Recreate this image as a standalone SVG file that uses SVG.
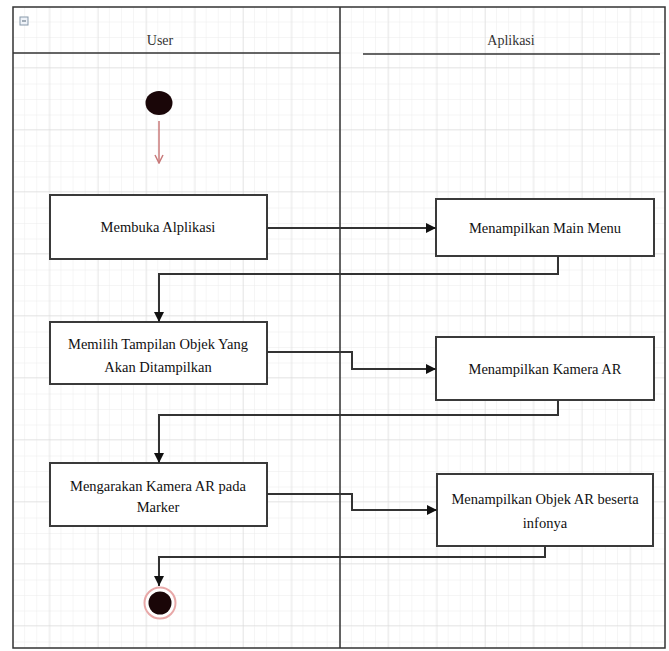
<svg xmlns="http://www.w3.org/2000/svg" width="669" height="651" viewBox="0 0 669 651">
  <defs>
    <pattern id="minor" x="13" y="7" width="12.1" height="15.5" patternUnits="userSpaceOnUse">
      <path d="M12.1 0 V15.5 M0 15.5 H12.1" fill="none" stroke="#ececec" stroke-width="1"/>
    </pattern>
    <pattern id="major" x="2" y="6" width="48.4" height="62" patternUnits="userSpaceOnUse">
      <path d="M48.4 0 V62 M0 62 H48.4" fill="none" stroke="#d9d9d9" stroke-width="1"/>
    </pattern>
    <marker id="arr" viewBox="0 0 10 10" refX="10" refY="5" markerWidth="10" markerHeight="10" markerUnits="userSpaceOnUse" orient="auto">
      <path d="M0 0 L10 5 L0 10 Z" fill="#111"/>
    </marker>
    <marker id="open" viewBox="0 0 10 10" refX="9" refY="5" markerWidth="10" markerHeight="10" markerUnits="userSpaceOnUse" orient="auto">
      <path d="M1 1 L9 5 L1 9" fill="none" stroke="#c87a7a" stroke-width="1.5"/>
    </marker>
    <style>
      .box { fill: #fff; stroke: #3a3a3a; stroke-width: 2; }
      .lbl { font-family: 'Liberation Serif', 'DejaVu Serif', serif; font-size: 14.5px; fill: #111; text-anchor: middle; }
      .hdr { font-family: 'Liberation Serif', 'DejaVu Serif', serif; font-size: 14px; fill: #333; text-anchor: middle; }
      .con { fill: none; stroke: #333; stroke-width: 2; }
    </style>
  </defs>
  <rect x="0" y="0" width="669" height="651" fill="#fff"/>
  <rect x="13" y="7" width="652" height="641" fill="url(#minor)"/>
  <rect x="13" y="7" width="652" height="641" fill="url(#major)"/>

  <g id="pool">
    <rect x="13" y="7" width="652" height="641" fill="none" stroke="#333" stroke-width="1.5"/>
    <line x1="13" y1="53" x2="340" y2="53" stroke="#333" stroke-width="1.5"/>
    <line x1="363" y1="54" x2="660" y2="54" stroke="#333" stroke-width="1.5"/>
    <line x1="340" y1="7" x2="340" y2="648" stroke="#333" stroke-width="1.5"/>
    <rect x="20" y="17" width="8" height="8" fill="#eef2f8" stroke="#8899aa" stroke-width="1"/>
    <line x1="22" y1="21" x2="26" y2="21" stroke="#556677" stroke-width="1"/>
  </g>
  <g id="lane-user"><text class="hdr" x="160" y="45">User</text></g>
  <g id="lane-aplikasi"><text class="hdr" x="511" y="45">Aplikasi</text></g>

  <g id="start"><ellipse cx="159" cy="103" rx="13.5" ry="12" fill="#1a0608"/></g>

  <g id="n1"><rect class="box" x="50" y="195" width="217" height="64"/><text class="lbl" x="158" y="232">Membuka Alplikasi</text></g>
  <g id="n2"><rect class="box" x="50" y="322" width="217" height="62"/><text class="lbl" x="158" y="349">Memilih Tampilan Objek Yang</text><text class="lbl" x="158" y="372">Akan Ditampilkan</text></g>
  <g id="n3"><rect class="box" x="50" y="463" width="217" height="63"/><text class="lbl" x="158" y="491">Mengarakan Kamera AR pada</text><text class="lbl" x="158" y="512">Marker</text></g>
  <g id="n4"><rect class="box" x="436" y="199" width="218" height="57"/><text class="lbl" x="545" y="233">Menampilkan Main Menu</text></g>
  <g id="n5"><rect class="box" x="436" y="337" width="218" height="63"/><text class="lbl" x="545" y="374">Menampilkan Kamera AR</text></g>
  <g id="n6"><rect class="box" x="437" y="474" width="216" height="72"/><text class="lbl" x="545" y="504">Menampilkan Objek AR beserta</text><text class="lbl" x="545" y="528">infonya</text></g>

  <g id="end">
    <circle cx="160" cy="603" r="15.5" fill="#fff" stroke="#e8a8a8" stroke-width="2"/>
    <circle cx="160" cy="603" r="11.5" fill="#1a0608"/>
  </g>

  <g id="connectors">
    <line x1="159" y1="121" x2="159" y2="163" stroke="#c87a7a" stroke-width="1.5" marker-end="url(#open)"/>
    <path class="con" d="M267 228 H436" marker-end="url(#arr)"/>
    <path class="con" d="M558 256 V274 H159 V322" marker-end="url(#arr)"/>
    <path class="con" d="M267 352 H352 V369 H436" marker-end="url(#arr)"/>
    <path class="con" d="M558 400 V415 H159 V463" marker-end="url(#arr)"/>
    <path class="con" d="M267 494 H352 V510 H437" marker-end="url(#arr)"/>
    <path class="con" d="M545 546 V557 H159 V586" marker-end="url(#arr)"/>
  </g>
</svg>
